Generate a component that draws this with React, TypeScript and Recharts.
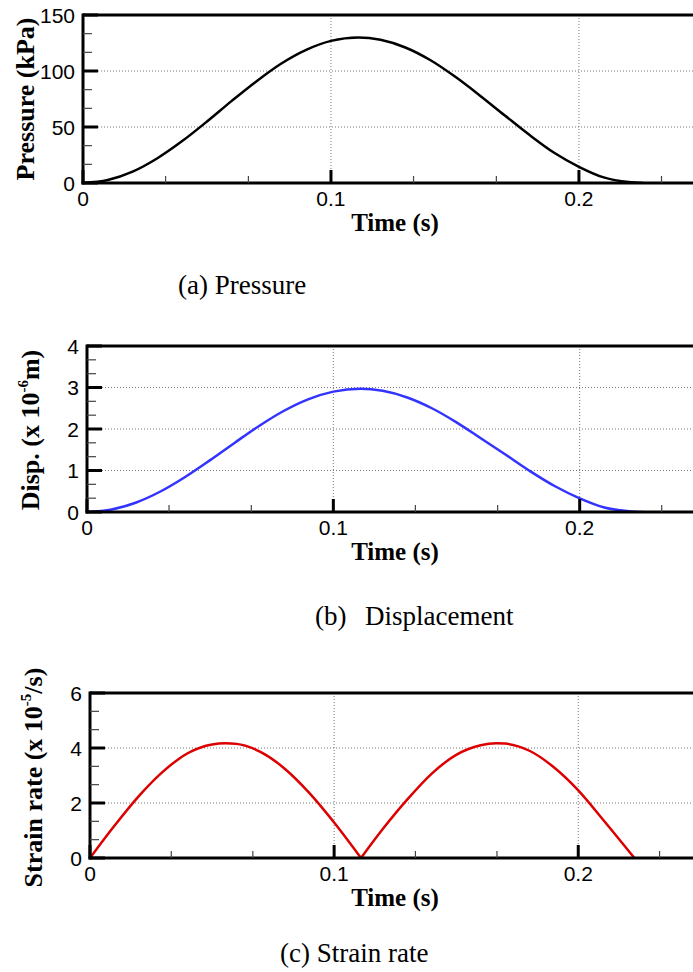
import React from 'react';
import { LineChart, Line, XAxis, YAxis, CartesianGrid, ReferenceLine } from 'recharts';

// ---- data ----
const pressureTime = [0, 0.01, 0.02, 0.03, 0.04, 0.05, 0.06, 0.07, 0.08, 0.09, 0.1, 0.111, 0.12, 0.13, 0.14, 0.15, 0.16, 0.17, 0.18, 0.19, 0.2, 0.21, 0.22, 0.226];
const pressureValues = [0, 2.6, 10.1, 22.1, 37.4, 54.9, 73.3, 90.9, 106.7, 118.9, 126.9, 130.0, 127.9, 121.0, 109.8, 95.0, 78.2, 60.5, 43.0, 27.0, 14.5, 5.0, 0.8, 0];

const dispTime = [0, 0.01, 0.02, 0.03, 0.04, 0.05, 0.06, 0.07, 0.08, 0.09, 0.1, 0.111, 0.12, 0.13, 0.14, 0.15, 0.16, 0.17, 0.18, 0.19, 0.2, 0.21, 0.22, 0.226];
const dispValues = [0, 0.06, 0.23, 0.5, 0.85, 1.25, 1.67, 2.08, 2.44, 2.72, 2.9, 2.97, 2.92, 2.76, 2.5, 2.16, 1.77, 1.38, 0.98, 0.62, 0.33, 0.11, 0.02, 0];

const strainTime = [0, 0.01, 0.02, 0.03, 0.04, 0.05, 0.0555, 0.06, 0.07, 0.08, 0.09, 0.1, 0.111, 0.12, 0.13, 0.14, 0.15, 0.16, 0.1665, 0.17, 0.18, 0.19, 0.2, 0.21, 0.223];
const strainValues = [0, 1.17, 2.25, 3.15, 3.81, 4.13, 4.17, 4.15, 3.85, 3.23, 2.35, 1.29, 0, 1.06, 2.13, 3.07, 3.75, 4.1, 4.17, 4.16, 3.9, 3.3, 2.46, 1.41, 0];
const strainCusp = 0.111;

// ---- ticks ----
const xTicks = [0, 0.0333, 0.0667, 0.1, 0.1333, 0.1667, 0.2, 0.2333];
const xMajorTicks = [0, 0.1, 0.2];
const xGridValues = [0.1, 0.2];

const pressureTicks = [0, 16.667, 33.333, 50, 66.667, 83.333, 100, 116.667, 133.333, 150];
const pressureMajor = [0, 50, 100, 150];
const pressureGrid = [50, 100];

const dispTicks = [0, 0.333, 0.667, 1, 1.333, 1.667, 2, 2.333, 2.667, 3, 3.333, 3.667, 4];
const dispMajor = [0, 1, 2, 3, 4];
const dispGrid = [1, 2, 3];

const strainTicks = [0, 0.667, 1.333, 2, 2.667, 3.333, 4, 4.667, 5.333, 6];
const strainMajor = [0, 2, 4, 6];
const strainGrid = [2, 4];

const SANS = '"Liberation Sans", Arial, sans-serif';
const SERIF = '"Liberation Serif", "Times New Roman", serif';

const pressureData = pressureTime.map((t, i) => ({ t, v: pressureValues[i] }));
const dispData = dispTime.map((t, i) => ({ t, v: dispValues[i] }));
const strainData = strainTime.map((t, i) => ({
  t,
  a: t <= strainCusp ? strainValues[i] : null,
  b: t >= strainCusp ? strainValues[i] : null,
}));

const isIn = (arr: number[], v: number) => arr.some((m) => Math.abs(m - v) < 1e-6);

type PanelProps = {
  top: number;
  left: number;
  bottom: number;
  xMax: number;
  yMax: number;
  yTicks: number[];
  yMajor: number[];
  yGrid: number[];
  data: any[];
  keys: string[];
  color: string;
  yLabel: React.ReactNode;
  labelX: number;
  labelDy: number;
};

function Panel(p: PanelProps) {
  const mTop = 35;
  const plotH = p.bottom - p.top;
  const height = mTop + plotH + 60;

  const YTick = (tp: any) => {
    const v = tp.payload.value;
    const x = tp.x;
    const y = tp.y;
    const major = isIn(p.yMajor, v);
    return (
      <g>
        {major ? (
          <line x1={x} x2={x + 15} y1={y} y2={y} stroke="#000" strokeWidth={3} />
        ) : (
          <line x1={x} x2={x + 9} y1={y} y2={y} stroke="#444" strokeWidth={1.2} />
        )}
        {major && (
          <text x={x - 8} y={y + 7.5} textAnchor="end" fontFamily={SANS} fontSize={21} fill="#000">
            {String(v)}
          </text>
        )}
      </g>
    );
  };

  const XTick = (tp: any) => {
    const v = tp.payload.value;
    const x = tp.x;
    const y = tp.y;
    const major = isIn(xMajorTicks, v);
    return (
      <g>
        {major ? (
          <line x1={x} x2={x} y1={y} y2={y - 13} stroke="#000" strokeWidth={3} />
        ) : (
          <line x1={x} x2={x} y1={y} y2={y - 7} stroke="#444" strokeWidth={1.2} />
        )}
        {major && (
          <text x={x} y={y + 23} textAnchor="middle" fontFamily={SANS} fontSize={21} fill="#000">
            {String(v)}
          </text>
        )}
      </g>
    );
  };

  const timeLabel = () => (
    <text x={395} y={mTop + plotH + 48} textAnchor="middle" fontFamily={SERIF} fontWeight="bold" fontSize={25} fill="#000">
      Time (s)
    </text>
  );

  const cy = mTop + plotH / 2 + p.labelDy;
  const yLabelFn = () => (
    <text
      x={p.labelX}
      y={cy}
      transform={`rotate(-90, ${p.labelX}, ${cy})`}
      textAnchor="middle"
      fontFamily={SERIF}
      fontWeight="bold"
      fontSize={26}
      fill="#000"
    >
      {p.yLabel}
    </text>
  );

  return (
    <div style={{ position: 'absolute', left: 0, top: p.top - mTop }}>
      <LineChart width={693} height={height} data={p.data} margin={{ top: mTop, right: 0, bottom: 0, left: 0 }}>
        <CartesianGrid
          horizontalValues={p.yGrid}
          verticalValues={xGridValues}
          stroke="#777"
          strokeDasharray="1 2"
          strokeWidth={1}
        />
        <XAxis
          dataKey="t"
          type="number"
          domain={[0, p.xMax]}
          allowDataOverflow
          ticks={xTicks}
          interval={0}
          tickSize={0}
          tickMargin={0}
          tickLine={false}
          tick={XTick}
          height={60}
          axisLine={{ stroke: '#000', strokeWidth: 3, strokeLinecap: 'square' }}
          label={timeLabel}
        />
        <YAxis
          type="number"
          domain={[0, p.yMax]}
          allowDataOverflow
          ticks={p.yTicks}
          interval={0}
          tickSize={0}
          tickMargin={0}
          tickLine={false}
          tick={YTick}
          width={p.left}
          axisLine={{ stroke: '#000', strokeWidth: 3, strokeLinecap: 'square' }}
          label={yLabelFn}
        />
        <ReferenceLine y={p.yMax} stroke="#000" strokeWidth={3} />
        {p.keys.map((k) => (
          <Line
            key={k}
            dataKey={k}
            type="monotone"
            stroke={p.color}
            strokeWidth={2.5}
            dot={false}
            activeDot={false}
            connectNulls={false}
            isAnimationActive={false}
          />
        ))}
      </LineChart>
    </div>
  );
}

export default function App() {
  return (
    <div style={{ position: 'absolute', left: 0, top: 0, width: 693, height: 972, overflow: 'hidden', background: '#fff' }}>
      <svg width={693} height={972} style={{ position: 'absolute', left: 0, top: 0 }}>
        <text x={178} y={294} fontFamily={SERIF} fontSize={27} fill="#000">(a) Pressure</text>
        <text x={315} y={625} fontFamily={SERIF} fontSize={27} fill="#000">(b)</text>
        <text x={365} y={625} fontFamily={SERIF} fontSize={27} fill="#000">Displacement</text>
        <text x={280} y={962} fontFamily={SERIF} fontSize={27} fill="#000">(c) Strain rate</text>
      </svg>
      <Panel
        top={15}
        left={83}
        bottom={183}
        xMax={0.246}
        yMax={150}
        yTicks={pressureTicks}
        yMajor={pressureMajor}
        yGrid={pressureGrid}
        data={pressureData}
        keys={['v']}
        color="#000000"
        yLabel="Pressure (kPa)"
        labelX={34}
        labelDy={0}
      />
      <Panel
        top={346}
        left={87}
        bottom={512}
        xMax={0.246}
        yMax={4}
        yTicks={dispTicks}
        yMajor={dispMajor}
        yGrid={dispGrid}
        data={dispData}
        keys={['v']}
        color="#3333ff"
        yLabel={
          <>
            <tspan>Disp. (x 10</tspan>
            <tspan dy={-11} fontSize={15}>-6</tspan>
            <tspan dy={11}>m)</tspan>
          </>
        }
        labelX={39}
        labelDy={1}
      />
      <Panel
        top={693}
        left={90}
        bottom={858}
        xMax={0.247}
        yMax={6}
        yTicks={strainTicks}
        yMajor={strainMajor}
        yGrid={strainGrid}
        data={strainData}
        keys={['a', 'b']}
        color="#dd0000"
        yLabel={
          <>
            <tspan>Strain rate (x 10</tspan>
            <tspan dy={-11} fontSize={15}>-5</tspan>
            <tspan dy={11}>/s)</tspan>
          </>
        }
        labelX={42}
        labelDy={2}
      />
    </div>
  );
}
